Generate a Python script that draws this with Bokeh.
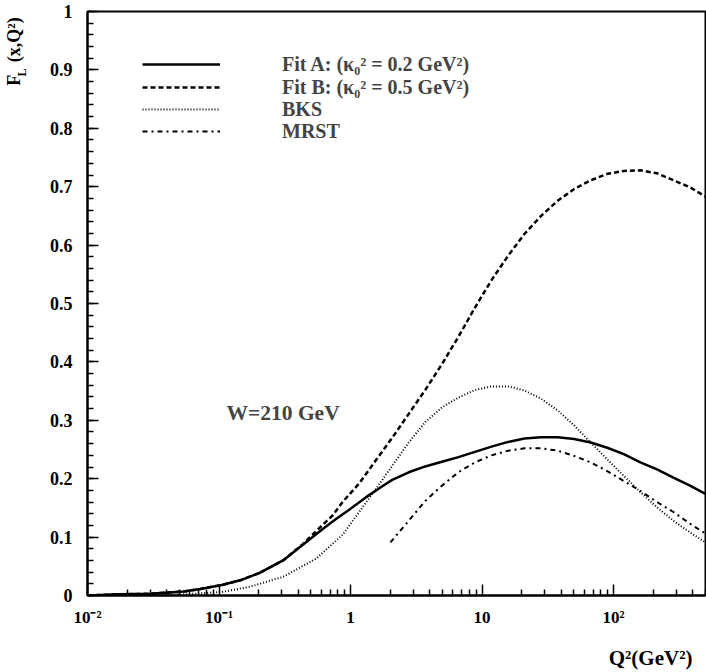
from bokeh.plotting import figure
from bokeh.models import FixedTicker, Legend, LegendItem, Label, LinearAxis
from bokeh.embed import file_html
from bokeh.resources import INLINE

# ---------------- data ----------------
q2_fitA = [0.01, 0.017, 0.03, 0.054, 0.072, 0.105, 0.145, 0.205, 0.307, 0.434, 0.615, 0.775, 0.977,
           1.306, 1.744, 2.075, 2.77, 3.70, 4.95, 6.61, 8.83, 11.8, 15.8, 21.0, 28.1, 37.6, 50.2,
           67, 89.6, 119.6, 160, 214, 285, 381, 500]
fl_fitA = [0.0, 0.002, 0.003, 0.007, 0.011, 0.018, 0.026, 0.039, 0.060, 0.087, 0.114, 0.131, 0.147,
           0.168, 0.187, 0.198, 0.211, 0.221, 0.229, 0.237, 0.246, 0.255, 0.263, 0.269, 0.271, 0.271, 0.268,
           0.262, 0.253, 0.242, 0.228, 0.216, 0.202, 0.188, 0.174]

q2_fitB = [0.01, 0.017, 0.03, 0.054, 0.072, 0.105, 0.145, 0.205, 0.307, 0.434, 0.547, 0.73, 0.87,
           1.163, 1.553, 2.075, 2.77, 3.70, 4.95, 6.61, 8.83, 11.8, 15.8, 21.0, 28.1, 37.6, 50.2,
           67, 89.6, 119.6, 160, 214, 285, 381, 500]
fl_fitB = [0.0, 0.002, 0.003, 0.007, 0.011, 0.018, 0.026, 0.039, 0.060, 0.088, 0.110, 0.137, 0.160,
           0.192, 0.231, 0.270, 0.311, 0.352, 0.396, 0.443, 0.493, 0.540, 0.582, 0.619, 0.650, 0.676, 0.696,
           0.711, 0.722, 0.727, 0.728, 0.723, 0.711, 0.699, 0.683]

q2_bks = [0.03, 0.054, 0.105, 0.172, 0.307, 0.547, 0.87, 1.163, 1.553, 2.075, 2.77, 3.70, 4.95,
          6.61, 8.83, 11.8, 15.8, 21.0, 28.1, 37.6, 50.2, 67, 89.6, 119.6, 160, 214, 285, 381, 500]
fl_bks = [0.0, 0.002, 0.006, 0.015, 0.032, 0.063, 0.104, 0.143, 0.182, 0.222, 0.262, 0.297, 0.322,
          0.339, 0.352, 0.358, 0.358, 0.351, 0.337, 0.317, 0.291, 0.262, 0.233, 0.205, 0.177, 0.151,
          0.128, 0.108, 0.091]

q2_mrst = [2.01, 2.77, 3.70, 4.95, 6.61, 8.83, 11.8, 15.8, 21.0, 28.1, 37.6, 50.2, 67, 89.6,
           119.6, 160, 214, 285, 381, 500]
fl_mrst = [0.091, 0.128, 0.162, 0.188, 0.211, 0.228, 0.240, 0.248, 0.252, 0.252, 0.248, 0.239,
           0.228, 0.213, 0.196, 0.179, 0.160, 0.143, 0.123, 0.106]

series_labels = ["Fit A: (κ₀² = 0.2 GeV²)", "Fit B: (κ₀² = 0.5 GeV²)", "BKS", "MRST"]

x_ticks = [0.01, 0.1, 1, 10, 100]
x_tick_labels = ["10⁻²", "10⁻¹", "1", "10", "10²"]
y_ticks = [0.0, 0.1, 0.2, 0.3, 0.4, 0.5, 0.6, 0.7, 0.8, 0.9, 1.0]
y_tick_labels = ["0", "0.1", "0.2", "0.3", "0.4", "0.5", "0.6", "0.7", "0.8", "0.9", "1"]

x_title = "Q²(GeV²)"
y_title_main = "F"
y_title_sub = "L"
y_title_rest = "(x,Q²)"

annot_text = "W=210 GeV"
annot_x = 0.114
annot_y = 0.313

x_min, x_max = 0.01, 500
y_min, y_max = 0.0, 1.0

FONT = "Liberation Serif"
EM = "\u2003"   # em space (used to slide axis titles along their axis)
EN = "\u2002"
THIN = "\u2009"

# ---------------- figure ----------------
FRAME_BOTTOM_BORDER = 75
p = figure(width=706, height=672, x_axis_type="log",
           x_range=(x_min, x_max), y_range=(y_min, y_max),
           output_backend="svg", toolbar_location=None,
           min_border_left=82, min_border_right=1, min_border_top=11,
           min_border_bottom=FRAME_BOTTOM_BORDER)

p.grid.visible = False
p.background_fill_color = "white"
p.border_fill_color = "white"
p.outline_line_color = "black"
p.outline_line_width = 2

x_minor = [k * 10.0 ** e for e in range(-2, 3) for k in range(2, 10) if k * 10.0 ** e <= x_max]
p.xaxis.ticker = FixedTicker(ticks=x_ticks, minor_ticks=x_minor)
p.xaxis.major_label_overrides = dict(zip(x_ticks, x_tick_labels))

y_minor = [round(i * 0.02, 2) for i in range(0, 51)]
p.yaxis.ticker = FixedTicker(ticks=y_ticks, minor_ticks=y_minor)
p.yaxis.major_label_overrides = dict(zip(y_ticks, y_tick_labels))

for ax in (p.xaxis[0], p.yaxis[0]):
    ax.axis_line_width = 2
    ax.axis_line_color = "black"
    ax.major_tick_in = 11
    ax.major_tick_out = 0
    ax.minor_tick_in = 6
    ax.minor_tick_out = 0
    ax.major_tick_line_width = 1.5
    ax.minor_tick_line_width = 1.5
    ax.major_label_text_font = FONT
    ax.major_label_text_font_style = "bold"
    ax.major_label_text_color = "black"
    ax.axis_label_text_font = FONT
    ax.axis_label_text_font_style = "bold"
    ax.axis_label_text_color = "black"
p.xaxis.major_label_text_font_size = "17px"
p.yaxis.major_label_text_font_size = "18px"
p.xaxis.major_label_standoff = 12
p.yaxis.major_label_standoff = 15

# x title, slid to the right end of the axis
p.xaxis.axis_label = EM * 24 + THIN + x_title
p.xaxis.axis_label_text_font_size = "21px"
p.xaxis.axis_label_standoff = 16

# y title: subscript on the main axis, the rest on an extra (tick-less) axis further out
p.yaxis.axis_label = EM * 38 + EN + y_title_sub
p.yaxis.axis_label_text_font_size = "12px"
p.yaxis.axis_label_standoff = 18

yt = LinearAxis(ticker=FixedTicker(ticks=[]), axis_line_color=None,
                major_tick_line_color=None, minor_tick_line_color=None,
                major_tick_in=0, major_tick_out=0, minor_tick_in=0, minor_tick_out=0,
                major_label_standoff=0,
                axis_label=EM * 28 + y_title_main + EN + THIN + y_title_rest,
                axis_label_text_font=FONT, axis_label_text_font_style="bold",
                axis_label_text_font_size="18px", axis_label_text_color="black",
                axis_label_standoff=-12)
p.add_layout(yt, "left")

# ---------------- curves ----------------
rA = p.line(q2_fitA, fl_fitA, line_color="black", line_width=2.5)
rB = p.line(q2_fitB, fl_fitB, line_color="black", line_width=2.5, line_dash="5 3")
rC = p.line(q2_bks, fl_bks, line_color="black", line_width=2, line_dash="1 2")
rD = p.line(q2_mrst, fl_mrst, line_color="black", line_width=2, line_dash="5 4 2 4")

# one single-row legend per entry, so the rows can sit as tightly as in the original
ROW_H = 24
legend_left = 55                          # px from the frame's left edge
row_centres = [66, 88.5, 111, 133.5]      # px from the top of the page
frame_bottom = 672 - FRAME_BOTTOM_BORDER
for renderer, label, yc in zip([rA, rB, rC, rD], series_labels, row_centres):
    lg = Legend(items=[LegendItem(label=label, renderers=[renderer])],
                location=(legend_left, round(frame_bottom - yc - ROW_H / 2)))
    lg.border_line_color = None
    lg.background_fill_alpha = 0
    lg.padding = 0
    lg.margin = 0
    lg.spacing = 0
    lg.glyph_width = 78
    lg.glyph_height = ROW_H
    lg.label_height = ROW_H
    lg.label_standoff = 62
    lg.label_text_font = FONT
    lg.label_text_font_style = "bold"
    lg.label_text_font_size = "20px"
    lg.label_text_baseline = "middle"
    p.add_layout(lg)

p.add_layout(Label(x=annot_x, y=annot_y, text=annot_text, text_baseline="middle",
                   text_font=FONT, text_font_style="bold", text_font_size="21.5px"))

open("out.html", "w").write(file_html(p, INLINE))
